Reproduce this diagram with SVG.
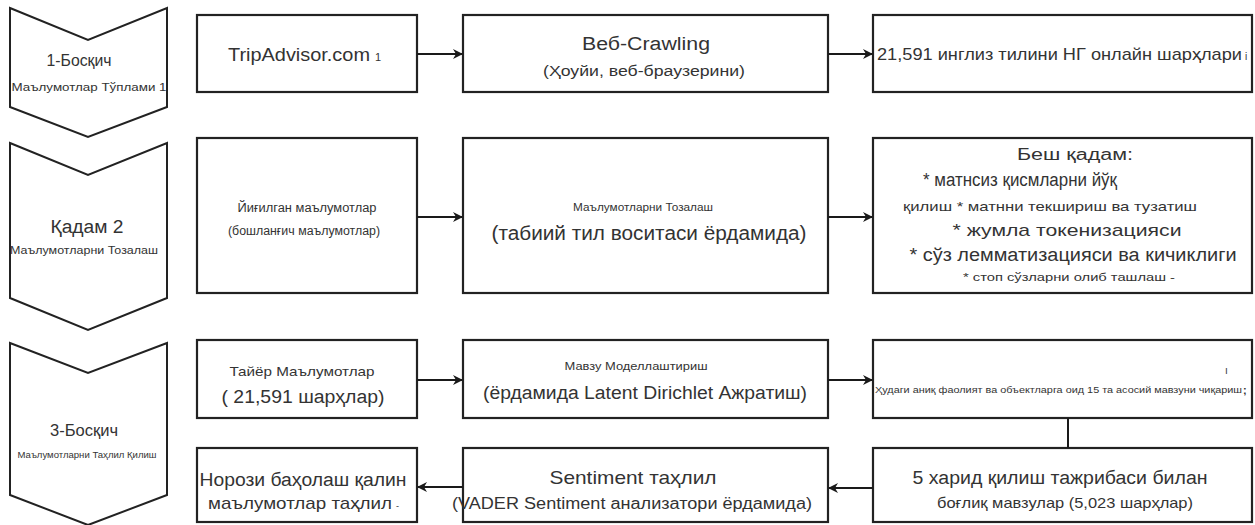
<svg xmlns="http://www.w3.org/2000/svg" width="1255" height="525" viewBox="0 0 1255 525">
<defs>
<marker id="ah" markerWidth="10" markerHeight="10" refX="9" refY="5" orient="auto" markerUnits="userSpaceOnUse">
<path d="M0,0 L10,5 L0,10 L3,5 Z" fill="#1a1a1a"/>
</marker>
<style>
.box{fill:#fff;stroke:#222;stroke-width:2.2}
.chev{fill:#fff;stroke:#222;stroke-width:2}
.t{font-family:"Liberation Sans",Arial,sans-serif;fill:#333;text-anchor:middle}
.tl{font-family:"Liberation Sans",Arial,sans-serif;fill:#333;text-anchor:start}
.c{stroke:#1a1a1a;stroke-width:2;fill:none}
</style>
</defs>
<rect width="1255" height="525" fill="#fff"/>

<g id="stage1">
<path class="chev" d="M10,8 L88,40 L167,8 L167,107 L88,137 L10,107 Z"/>
<text class="t" x="79" y="66" font-size="16" textLength="65" lengthAdjust="spacingAndGlyphs">1-Босқич</text>
<text class="t" x="89" y="91" font-size="11" textLength="155" lengthAdjust="spacingAndGlyphs">Маълумотлар Тўплами 1</text>
</g>
<g id="stage2">
<path class="chev" d="M10,143 L88,175 L167,143 L167,298 L88,330 L10,298 Z"/>
<text class="t" x="87" y="233" font-size="18" textLength="73" lengthAdjust="spacingAndGlyphs">Қадам 2</text>
<text class="t" x="84" y="254" font-size="11" textLength="148" lengthAdjust="spacingAndGlyphs">Маълумотларни Тозалаш</text>
</g>
<g id="stage3">
<path class="chev" d="M10,343 L88,373 L167,343 L167,495 L88,525 L10,495 Z"/>
<text class="t" x="84" y="436" font-size="16" textLength="68" lengthAdjust="spacingAndGlyphs">3-Босқич</text>
<text class="t" x="87" y="458" font-size="9" textLength="139" lengthAdjust="spacingAndGlyphs">Маълумотларни Таҳлил Қилиш</text>
</g>

<g id="tripadvisor">
<rect class="box" x="197" y="15" width="220" height="77"/>
<text class="tl" x="228" y="61" font-size="18" textLength="142" lengthAdjust="spacingAndGlyphs">TripAdvisor.com</text>
<text class="tl" x="375" y="61" font-size="11">1</text>
</g>
<g id="webcrawling">
<rect class="box" x="463" y="15" width="365" height="77"/>
<text class="t" x="646" y="50" font-size="18" textLength="128" lengthAdjust="spacingAndGlyphs">Веб-Crawling</text>
<text class="t" x="644" y="76" font-size="14" textLength="202" lengthAdjust="spacingAndGlyphs">(Ҳоуйи, веб-браузерини)</text>
</g>
<g id="reviews">
<rect class="box" x="873" y="15" width="379" height="77"/>
<text class="tl" x="877" y="60" font-size="17" textLength="365" lengthAdjust="spacingAndGlyphs">21,591 инглиз тилини НГ онлайн шарҳлари</text>
<text class="tl" x="1245" y="60" font-size="10">і</text>
</g>

<g id="collected">
<rect class="box" x="197" y="138" width="220" height="155"/>
<text class="t" x="307" y="212" font-size="12" textLength="139" lengthAdjust="spacingAndGlyphs">Йиғилган маълумотлар</text>
<text class="t" x="304" y="235" font-size="12" textLength="152" lengthAdjust="spacingAndGlyphs">(бошланғич маълумотлар)</text>
</g>
<g id="cleaning">
<rect class="box" x="463" y="138" width="365" height="155"/>
<text class="t" x="643" y="211" font-size="11" textLength="140" lengthAdjust="spacingAndGlyphs">Маълумотларни Тозалаш</text>
<text class="t" x="649" y="240" font-size="20" textLength="315" lengthAdjust="spacingAndGlyphs">(табиий тил воситаси ёрдамида)</text>
</g>
<g id="fivesteps">
<rect class="box" x="873" y="138" width="379" height="155"/>
<text class="t" x="1075" y="160" font-size="16" textLength="116" lengthAdjust="spacingAndGlyphs">Беш қадам:</text>
<text class="t" x="1020" y="186" font-size="18" textLength="194" lengthAdjust="spacingAndGlyphs">* матнсиз қисмларни йўқ</text>
<text class="t" x="1050" y="211" font-size="13" textLength="294" lengthAdjust="spacingAndGlyphs">қилиш * матнни текшириш ва тузатиш</text>
<text class="t" x="1067" y="236" font-size="17" textLength="229" lengthAdjust="spacingAndGlyphs">* жумла токенизацияси</text>
<text class="t" x="1073" y="261" font-size="18" textLength="327" lengthAdjust="spacingAndGlyphs">* сўз лемматизацияси ва кичиклиги</text>
<text class="t" x="1069" y="281" font-size="11" textLength="212" lengthAdjust="spacingAndGlyphs">* стоп сўзларни олиб ташлаш -</text>
</g>

<g id="ready">
<rect class="box" x="197" y="340" width="220" height="78"/>
<text class="t" x="302" y="376" font-size="13" textLength="145" lengthAdjust="spacingAndGlyphs">Тайёр Маълумотлар</text>
<text class="t" x="303" y="403" font-size="18" textLength="163" lengthAdjust="spacingAndGlyphs">( 21,591 шарҳлар)</text>
</g>
<g id="topicmodel">
<rect class="box" x="463" y="340" width="365" height="78"/>
<text class="t" x="636" y="370" font-size="10" textLength="143" lengthAdjust="spacingAndGlyphs">Мавзу Моделлаштириш</text>
<text class="t" x="645" y="399" font-size="18" textLength="324" lengthAdjust="spacingAndGlyphs">(ёрдамида Latent Dirichlet Ажратиш)</text>
</g>
<g id="topics15">
<rect class="box" x="873" y="340" width="379" height="78"/>
<text class="tl" x="1225" y="374" font-size="10">ı</text>
<text class="tl" x="875" y="393" font-size="9" textLength="367" lengthAdjust="spacingAndGlyphs">Ҳудаги аниқ фаолият ва объектларга оид 15 та асосий мавзуни чиқариш</text>
<text class="tl" x="1243" y="394" font-size="11" font-weight="bold">;</text>
</g>

<g id="fivetopics">
<rect class="box" x="873" y="448" width="379" height="74"/>
<text class="t" x="1060" y="484" font-size="18" textLength="295" lengthAdjust="spacingAndGlyphs">5 харид қилиш тажрибаси билан</text>
<text class="t" x="1065" y="508" font-size="15" textLength="256" lengthAdjust="spacingAndGlyphs">боғлиқ мавзулар (5,023 шарҳлар)</text>
</g>
<g id="sentiment">
<rect class="box" x="463" y="448" width="365" height="74"/>
<text class="t" x="633" y="484" font-size="19" textLength="167" lengthAdjust="spacingAndGlyphs">Sentiment таҳлил</text>
<text class="t" x="632" y="509" font-size="16" textLength="360" lengthAdjust="spacingAndGlyphs">(VADER Sentiment анализатори ёрдамида)</text>
</g>
<g id="dissatisfaction">
<rect class="box" x="197" y="448" width="220" height="74"/>
<text class="t" x="303" y="486" font-size="18" textLength="207" lengthAdjust="spacingAndGlyphs">Норози баҳолаш қалин</text>
<text class="t" x="300" y="509" font-size="17" textLength="184" lengthAdjust="spacingAndGlyphs">маълумотлар таҳлил</text>
<text class="tl" x="396" y="509" font-size="9">-</text>
</g>

<g id="connectors">
<line class="c" x1="417" y1="54" x2="462" y2="54" marker-end="url(#ah)"/>
<line class="c" x1="828" y1="54" x2="872" y2="54" marker-end="url(#ah)"/>
<line class="c" x1="417" y1="217" x2="462" y2="217" marker-end="url(#ah)"/>
<line class="c" x1="828" y1="217" x2="872" y2="217" marker-end="url(#ah)"/>
<line class="c" x1="417" y1="380" x2="462" y2="380" marker-end="url(#ah)"/>
<line class="c" x1="828" y1="380" x2="872" y2="380" marker-end="url(#ah)"/>
<line class="c" x1="1068" y1="418" x2="1068" y2="448"/>
<line class="c" x1="873" y1="488" x2="829" y2="488" marker-end="url(#ah)"/>
<line class="c" x1="463" y1="487" x2="418" y2="487" marker-end="url(#ah)"/>
</g>
</svg>
